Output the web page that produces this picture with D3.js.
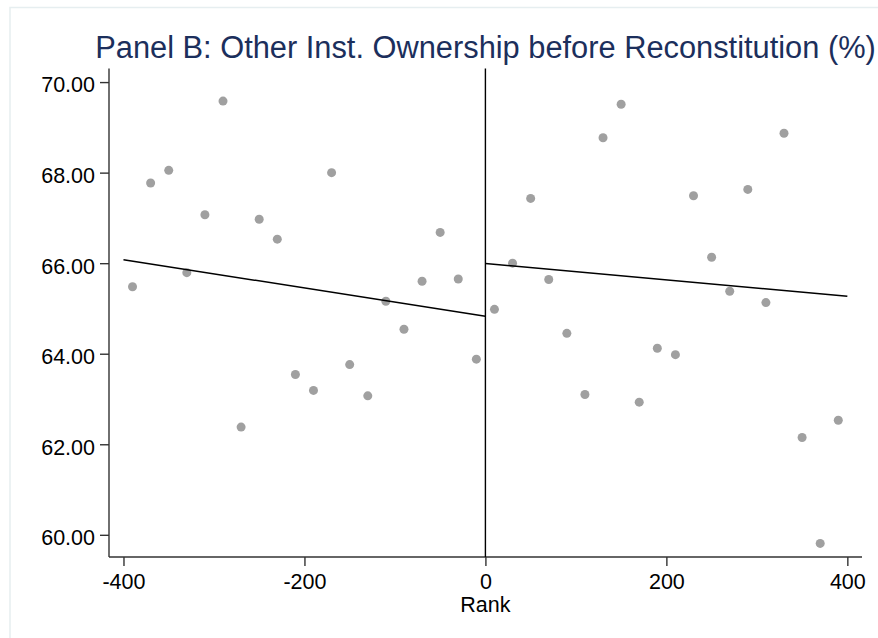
<!DOCTYPE html>
<html>
<head>
<meta charset="utf-8">
<script src="https://cdn.jsdelivr.net/npm/d3@7"></script>
<style>
  body { margin: 0; background: #fff; }
  svg { display: block; font-family: Arial, "Liberation Sans", sans-serif; }
</style>
</head>
<body>
<svg id="chart" width="878" height="638"></svg>
<script>
// binned ranks (bin mid-points) and mean ownership per bin
const rankLeft = [-390, -370, -350, -330, -310, -290, -270, -250, -230, -210,
                  -190, -170, -150, -130, -110, -90, -70, -50, -30, -10];
const ownLeft = [65.48, 67.77, 68.05, 65.79, 67.07, 69.58, 62.38, 66.97, 66.53, 63.54,
                 63.19, 68.00, 63.76, 63.07, 65.16, 64.54, 65.60, 66.68, 65.65, 63.88];
const rankRight = [10, 30, 50, 70, 90, 110, 130, 150, 170, 190,
                   210, 230, 250, 270, 290, 310, 330, 350, 370, 390];
const ownRight = [64.98, 66.00, 67.43, 65.64, 64.45, 63.10, 68.77, 69.51, 62.93, 64.12,
                  63.98, 67.49, 66.13, 65.38, 67.63, 65.13, 68.87, 62.15, 59.81, 62.53];

// linear fit end points on each side of the cutoff
const fitLeft = [[-400, 66.075], [0, 64.83]];
const fitRight = [[0, 65.995], [400, 65.27]];

const xTicks = [-400, -200, 0, 200, 400];
const yTicks = [60, 62, 64, 66, 68, 70];

const svg = d3.select("#chart");

// light graph region outline
svg.append("rect")
  .attr("x", 10).attr("y", 7.5)
  .attr("width", 880).attr("height", 640)
  .attr("fill", "none")
  .attr("stroke", "#e6eef0")
  .attr("stroke-width", 1.5);

const plotL = 109, plotR = 862, plotT = 68.5, plotB = 557;

const x = d3.scaleLinear().domain([-416, 416.2]).range([plotL, plotR]);
const y = d3.scaleLinear().domain([59.51, 70.30]).range([plotB, plotT]);

// y axis
const yAxis = svg.append("g")
  .attr("transform", `translate(${plotL},0)`)
  .call(d3.axisLeft(y).tickValues(yTicks).tickFormat(d3.format(".2f")).tickSize(9).tickPadding(5));
yAxis.select(".domain").attr("d", `M0,${plotT}V${plotB}`);
yAxis.selectAll(".tick text").attr("dy", "0.46em");

// x axis (plain hyphen for negatives, like the original)
const xAxis = svg.append("g")
  .attr("transform", `translate(0,${plotB})`)
  .call(d3.axisBottom(x).tickValues(xTicks).tickFormat((d) => String(d)).tickSize(9).tickPadding(8));
xAxis.select(".domain").attr("d", `M${plotL},0H${plotR}`);

svg.selectAll(".domain").attr("stroke", "#333").attr("stroke-width", 1.4);
svg.selectAll(".tick line").attr("stroke", "#333").attr("stroke-width", 1.4);
svg.selectAll(".tick text")
  .attr("font-size", 21.5)
  .attr("fill", "#000")
  .attr("font-family", "Arial, 'Liberation Sans', sans-serif");

// cutoff line
svg.append("line")
  .attr("x1", x(0)).attr("x2", x(0))
  .attr("y1", plotT).attr("y2", plotB)
  .attr("stroke", "#000")
  .attr("stroke-width", 1.4);

// points
const pts = rankLeft.map((r, i) => ({ r, v: ownLeft[i] }))
  .concat(rankRight.map((r, i) => ({ r, v: ownRight[i] })));

svg.append("g")
  .selectAll("circle")
  .data(pts)
  .enter()
  .append("circle")
  .attr("cx", (d) => x(d.r))
  .attr("cy", (d) => y(d.v))
  .attr("r", 4.5)
  .attr("fill", "#a0a0a0");

// fitted lines
const line = d3.line().x((d) => x(d[0])).y((d) => y(d[1]));
[fitLeft, fitRight].forEach((f) => {
  svg.append("path")
    .attr("d", line(f))
    .attr("fill", "none")
    .attr("stroke", "#000")
    .attr("stroke-width", 1.5);
});

// title and axis title
svg.append("text")
  .attr("x", (plotL + plotR) / 2)
  .attr("y", 58)
  .attr("text-anchor", "middle")
  .attr("font-size", 30.8)
  .attr("fill", "#1c2f5c")
  .text("Panel B: Other Inst. Ownership before Reconstitution (%)");

svg.append("text")
  .attr("x", x(0))
  .attr("y", 612)
  .attr("text-anchor", "middle")
  .attr("font-size", 21.5)
  .attr("fill", "#000")
  .text("Rank");
</script>
</body>
</html>
